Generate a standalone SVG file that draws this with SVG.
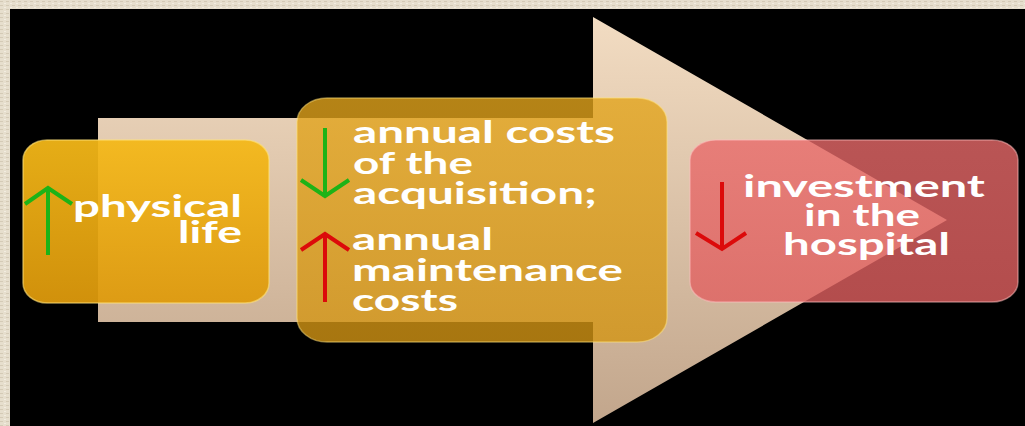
<svg xmlns="http://www.w3.org/2000/svg" width="1025" height="426" viewBox="0 0 1025 426">
<defs>
<style>
.t{font-family:Lato,"Open Sans","Liberation Sans",sans-serif;font-weight:700;font-size:31px;fill:#ffffff}
.ar{fill:none;stroke-width:4;stroke-linecap:butt;stroke-linejoin:miter}
.g{stroke:#1db317}
.r{stroke:#dc0a0a}
</style>
<linearGradient id="arrowG" x1="0" y1="0" x2="0" y2="1">
<stop offset="0" stop-color="#f2dcc2"/>
<stop offset="1" stop-color="#c2a68c"/>
</linearGradient>
<linearGradient id="leftG" x1="0" y1="0" x2="0" y2="1">
<stop offset="0" stop-color="#f4b818"/>
<stop offset="1" stop-color="#de9a0c"/>
</linearGradient>
<linearGradient id="midG" x1="0" y1="0" x2="0" y2="1">
<stop offset="0" stop-color="#e2a41c"/>
<stop offset="1" stop-color="#d29414"/>
</linearGradient>
<linearGradient id="rightG" x1="0" y1="0" x2="0" y2="1">
<stop offset="0" stop-color="#e86a6a"/>
<stop offset="1" stop-color="#e06060"/>
</linearGradient>
<pattern id="tex" width="6" height="4" patternUnits="userSpaceOnUse">
<rect width="6" height="4" fill="#e6decd"/>
<rect x="0" y="1" width="3" height="1" fill="#d4cab6"/>
<rect x="4" y="3" width="2" height="1" fill="#f2ece0"/>
</pattern>
</defs>
<rect x="0" y="0" width="1025" height="426" fill="url(#tex)"/>
<rect x="10" y="9" width="1015" height="417" fill="#000000"/>
<g id="flow-arrow">
<path d="M98,118 L593,118 L593,17 L947,220 L593,423 L593,322 L98,322 Z" fill="url(#arrowG)"/>
</g>
<g id="node-physical-life">
<rect x="23" y="140" width="246" height="163" rx="24" ry="20" fill="url(#leftG)" fill-opacity="0.94" stroke="#ffe27a" stroke-opacity="0.6" stroke-width="1.5"/>
<text class="t"><tspan x="73" y="217" textLength="169" lengthAdjust="spacingAndGlyphs">physical</tspan><tspan x="178" y="243" textLength="64" lengthAdjust="spacingAndGlyphs">life</tspan></text>
</g>
<g id="node-costs">
<rect x="297" y="98" width="370" height="244" rx="30" ry="24" fill="url(#midG)" fill-opacity="0.8" stroke="#ffe27a" stroke-opacity="0.5" stroke-width="1.5"/>
<text class="t"><tspan x="353" y="143" textLength="262" lengthAdjust="spacingAndGlyphs">annual costs</tspan><tspan x="353" y="174" textLength="120" lengthAdjust="spacingAndGlyphs">of the</tspan><tspan x="353" y="204" textLength="244" lengthAdjust="spacingAndGlyphs">acquisition;</tspan></text>
<text class="t"><tspan x="352" y="250" textLength="141" lengthAdjust="spacingAndGlyphs">annual</tspan><tspan x="352" y="281" textLength="271" lengthAdjust="spacingAndGlyphs">maintenance</tspan><tspan x="352" y="311" textLength="106" lengthAdjust="spacingAndGlyphs">costs</tspan></text>
</g>
<g id="node-investment">
<rect x="690" y="140" width="328" height="162" rx="26" ry="20" fill="url(#rightG)" fill-opacity="0.8" stroke="#ffc0c0" stroke-opacity="0.5" stroke-width="1.5"/>
<text class="t"><tspan x="743" y="197" textLength="242" lengthAdjust="spacingAndGlyphs">investment</tspan><tspan x="804" y="226" textLength="116" lengthAdjust="spacingAndGlyphs">in the</tspan><tspan x="783" y="255" textLength="167" lengthAdjust="spacingAndGlyphs">hospital</tspan></text>
</g>
<g id="indicators">
<path class="ar g" d="M48,255 L48,188 M25,204 L48,188 L72,204"/>
<path class="ar g" d="M325,128 L325,195 M301,180 L325,196 L349,180"/>
<path class="ar r" d="M325,302 L325,235 M301,250 L325,234 L349,250"/>
<path class="ar r" d="M722,182 L722,247 M696,233 L722,249 L746,233"/>
</g>
</svg>
